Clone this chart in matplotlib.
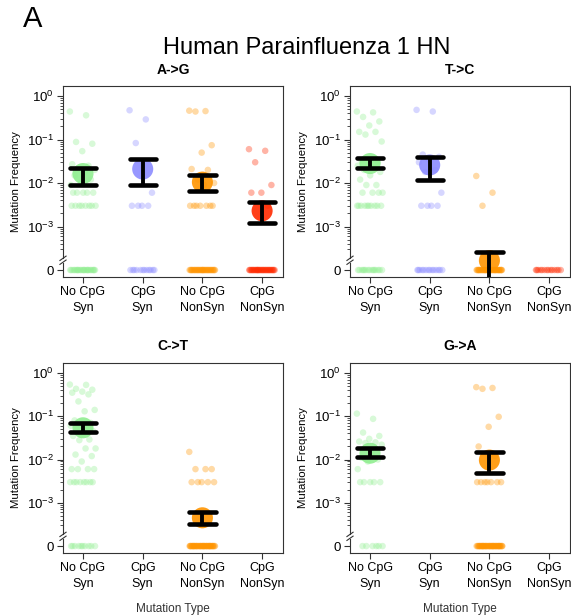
import matplotlib
matplotlib.use('Agg')
import matplotlib.pyplot as plt
import numpy as np

plt.rcParams['font.family'] = ['Liberation Sans', 'DejaVu Sans']
plt.rcParams['mathtext.fontset'] = 'custom'
plt.rcParams['mathtext.rm'] = 'Liberation Sans'
plt.rcParams['mathtext.it'] = 'Liberation Sans:italic'

CATEGORIES = ['No CpG\nSyn', 'CpG\nSyn', 'No CpG\nNonSyn', 'CpG\nNonSyn']
COLORS = ['#90EE90', '#8C8CFF', '#FF9500', '#FF2A00']
PANELS = ['A->G', 'T->C', 'C->T', 'G->A']

# point values per category (0 = no mutation seen)
AG_POINTS = [
    [0.44, 0.36, 0.088, 0.08, 0.054, 0.027, 0.025, 0.022, 0.02, 0.018, 0.015,
     0.012, 0.01, 0.009] + [0.006] * 5 + [0.003] * 8 + [0] * 25,
    [0.47, 0.29, 0.083, 0.006] + [0.003] * 4 + [0] * 12,
    [0.46, 0.45, 0.44, 0.074, 0.05, 0.021, 0.02, 0.012, 0.01, 0.009] + [0.003] * 7 + [0] * 35,
    [0.06, 0.055, 0.03, 0.009, 0.006, 0.006, 0.003] + [0] * 35,
]
AG_MEAN = [0.0165, 0.021, 0.0105, 0.0023]
AG_LO = [0.0092, 0.0089, 0.0065, 0.0012]
AG_HI = [0.0224, 0.035, 0.0155, 0.0036]

TC_POINTS = [
    [0.44, 0.42, 0.33, 0.26, 0.21, 0.15, 0.15, 0.13, 0.09, 0.035, 0.032, 0.03,
     0.027, 0.025, 0.022, 0.02, 0.018, 0.015, 0.012, 0.009, 0.009] + [0.006] * 4
    + [0.003] * 10 + [0] * 15,
    [0.48, 0.44, 0.045, 0.04, 0.035, 0.03, 0.02, 0.018, 0.006] + [0.003] * 4 + [0] * 14,
    [0.0145, 0.006, 0.003] + [0] * 40,
    [0] * 14,
]
TC_MEAN = [0.028, 0.026, 0.000165, None]
TC_LO = [0.022, 0.012, 0.0, None]
TC_HI = [0.038, 0.04, 0.00026, None]

CT_POINTS = [
    [0.54, 0.53, 0.43, 0.41, 0.37, 0.35, 0.32, 0.22, 0.14, 0.13, 0.08, 0.07,
     0.065, 0.06, 0.055, 0.05, 0.045, 0.04, 0.035, 0.029, 0.028, 0.018, 0.018,
     0.013, 0.012, 0.009] + [0.006] * 4 + [0.003] * 8 + [0] * 10,
    [],
    [0.015, 0.006, 0.006, 0.006] + [0.003] * 5 + [0] * 45,
    [],
]
CT_MEAN = [0.054, None, 0.00045, None]
CT_LO = [0.043, None, 0.00032, None]
CT_HI = [0.07, None, 0.0006, None]

GA_POINTS = [
    [0.115, 0.087, 0.042, 0.035, 0.03, 0.026, 0.025, 0.024, 0.022, 0.014,
     0.011, 0.01, 0.009, 0.006] + [0.003] * 5 + [0] * 6,
    [],
    [0.47, 0.45, 0.43, 0.097, 0.057, 0.02, 0.012] + [0.003] * 7 + [0] * 45,
    [],
]
GA_MEAN = [0.014, None, 0.0097, None]
GA_LO = [0.0115, None, 0.005, None]
GA_HI = [0.0186, None, 0.0147, None]

ZERO_POS = 1e-4  # where the zero row sits below the axis break
W, H = 571, 616


def rect(l, r, t, b):
    return [l / W, 1 - b / H, (r - l) / W, (b - t) / H]


def draw_panel(ax, title, points, means, los, his, bottom_row):
    for i, (vals, color) in enumerate(zip(points, COLORS)):
        x0 = i + 1
        if len(vals) > 0:
            n = len(vals)
            # deterministic jitter
            offs = ((np.arange(n) * 0.6180339887) % 1.0 - 0.5) * 0.44
            yv = np.array([v if v > 0 else ZERO_POS for v in vals])
            ax.scatter(x0 + offs, yv, s=22, color=color, alpha=0.35,
                       edgecolors='none', zorder=2)
        if means[i] is not None:
            ax.scatter([x0], [means[i]], s=230, color=color, alpha=0.9,
                       edgecolors='none', zorder=3)
            lo = los[i] if los[i] > 0 else 1e-6
            ax.plot([x0, x0], [lo, his[i]], color='black', lw=2.8,
                    solid_capstyle='butt', zorder=4)
            for yy in (lo, his[i]):
                ax.plot([x0 - 0.22, x0 + 0.22], [yy, yy], color='black',
                        lw=3.3, solid_capstyle='round', zorder=4)

    ax.set_yscale('log')
    ax.set_ylim(10 ** -4.16, 10 ** 0.23)
    ax.set_xlim(0.665, 4.35)
    ax.set_yticks([1, 0.1, 0.01, 0.001, ZERO_POS])
    ax.set_yticklabels([r'$10^{0}$', r'$10^{-1}$', r'$10^{-2}$', r'$10^{-3}$', '0'],
                       fontsize=9.5)
    minors = [m * 10.0 ** k for k in range(-4, 0) for m in range(2, 10)]
    ax.set_yticks([v for v in minors if v >= 3e-4], minor=True)
    ax.yaxis.set_minor_formatter(plt.NullFormatter())
    ax.set_xticks([1, 2, 3, 4])
    ax.set_xticklabels(CATEGORIES, fontsize=9, linespacing=1.45)
    ax.tick_params(axis='both', which='major', direction='out', length=4,
                   width=0.8, color='#333333', pad=2.5)
    ax.tick_params(axis='y', which='minor', direction='out', length=2.5,
                   width=0.6, color='#333333')
    for sp in ax.spines.values():
        sp.set_linewidth(0.8)
        sp.set_color('#333333')

    # broken left axis
    ax.spines['left'].set_visible(False)
    tr = ax.get_yaxis_transform()
    ax.plot([0, 0], [10 ** 0.23, 10 ** -3.72], transform=tr, color='#333333',
            lw=0.8, clip_on=False)
    ax.plot([0, 0], [10 ** -3.83, 10 ** -4.16], transform=tr, color='#333333',
            lw=0.8, clip_on=False)
    for yc in (-3.73, -3.82):
        ax.plot([-0.014, 0.014], [10 ** (yc - 0.05), 10 ** (yc + 0.05)],
                transform=tr, color='#333333', lw=0.8, clip_on=False)

    ax.set_title(title, fontsize=10, fontweight='bold', pad=9)
    ax.set_ylabel('Mutation Frequency', fontsize=8.2, labelpad=4)
    if bottom_row:
        ax.set_xlabel('Mutation Type', fontsize=8.5, labelpad=9, color='#333333')


fig = plt.figure(figsize=(W / 100, H / 100), dpi=100)

ax1 = fig.add_axes(rect(63, 283, 86, 277))
ax2 = fig.add_axes(rect(350, 570, 86, 277))
ax3 = fig.add_axes(rect(63, 283, 363, 553))
ax4 = fig.add_axes(rect(350, 570, 363, 553))

draw_panel(ax1, PANELS[0], AG_POINTS, AG_MEAN, AG_LO, AG_HI, False)
draw_panel(ax2, PANELS[1], TC_POINTS, TC_MEAN, TC_LO, TC_HI, False)
draw_panel(ax3, PANELS[2], CT_POINTS, CT_MEAN, CT_LO, CT_HI, True)
draw_panel(ax4, PANELS[3], GA_POINTS, GA_MEAN, GA_LO, GA_HI, True)

fig.text(307 / W, 1 - 48 / H, 'Human Parainfluenza 1 HN', fontsize=17,
         ha='center', va='center')
fig.text(23 / W, 1 - 19 / H, 'A', fontsize=21, ha='left', va='center')

fig.savefig('out.png', dpi=100)
